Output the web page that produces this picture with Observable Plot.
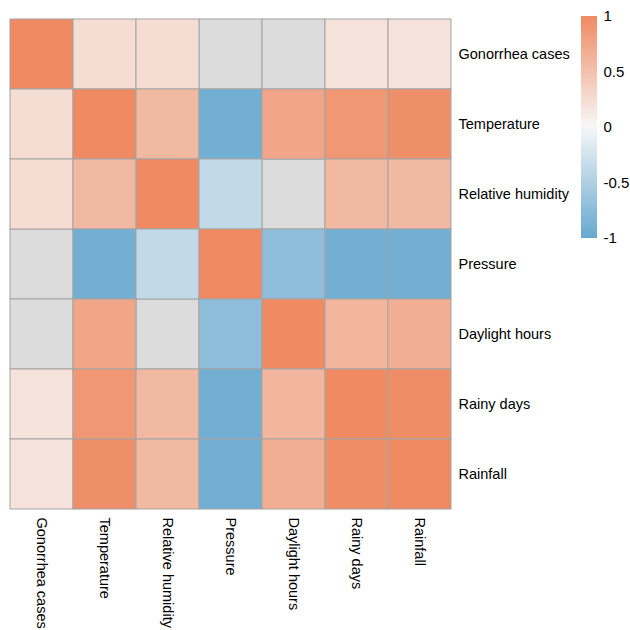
<!DOCTYPE html>
<html>
<head>
<meta charset="utf-8">
<script src="https://cdn.jsdelivr.net/npm/d3@7"></script>
<script src="https://cdn.jsdelivr.net/npm/@observablehq/plot@0.6"></script>
<style>
  html, body { margin: 0; padding: 0; background: #fff; }
  #wrap { position: relative; width: 630px; height: 630px; font-family: "Liberation Sans", Arial, sans-serif; }
  #legend { position: absolute; left: 573px; top: 0px; }
  #main { position: absolute; left: 0; top: 0; }
</style>
</head>
<body>
<div id="wrap"><div id="main"></div><div id="legend"></div></div>
<script>
const variables = ["Gonorrhea cases", "Temperature", "Relative humidity", "Pressure", "Daylight hours", "Rainy days", "Rainfall"];
// correlation matrix rows (null = not significant, drawn grey)
const rowGonorrhea   = [1.00, 0.24, 0.24, null, null, 0.19, 0.19];
const rowTemperature = [0.24, 1.00, 0.57, -0.92, 0.74, 0.88, 0.95];
const rowHumidity    = [0.24, 0.57, 1.00, -0.37, null, 0.57, 0.57];
const rowPressure    = [null, -0.92, -0.37, 1.00, -0.73, -0.92, -0.92];
const rowDaylight    = [null, 0.74, null, -0.73, 1.00, 0.60, 0.67];
const rowRainyDays   = [0.19, 0.88, 0.57, -0.92, 0.60, 1.00, 0.97];
const rowRainfall    = [0.19, 0.95, 0.57, -0.92, 0.67, 0.97, 1.00];
const matrix = [rowGonorrhea, rowTemperature, rowHumidity, rowPressure, rowDaylight, rowRainyDays, rowRainfall];
const legendTicks = [-1, -0.5, 0, 0.5, 1];

const cells = [];
matrix.forEach((row, i) => row.forEach((v, j) => cells.push({row: variables[i], col: variables[j], value: v})));

const colorOpts = {type: "linear", domain: [-1, 0, 1], range: ["#67a9cf", "#f7f7f7", "#ef8a62"], interpolate: "rgb"};
const font = "Liberation Sans, Arial, sans-serif";

const main = Plot.plot({
  width: 630, height: 630,
  marginLeft: 8, marginRight: 177, marginTop: 16, marginBottom: 119,
  style: {fontFamily: font, fontSize: "14.5px", color: "#000", background: "#fff"},
  x: {type: "band", domain: variables, padding: 0, axis: null},
  y: {type: "band", domain: variables, padding: 0, axis: null},
  color: colorOpts,
  marks: [
    Plot.cell(cells.filter(d => d.value === null), {x: "col", y: "row", fill: "#dcdcdc", stroke: "#a3a3a3", strokeWidth: 1}),
    Plot.cell(cells.filter(d => d.value !== null), {x: "col", y: "row", fill: "value", stroke: "#a3a3a3", strokeWidth: 1}),
    Plot.axisY({anchor: "right", tickSize: 0, tickPadding: 5, fontSize: 14.5, label: null}),
    Plot.axisX({anchor: "bottom", tickSize: 0, tickPadding: 6, tickRotate: 90, fontSize: 14.5, label: null})
  ]
});
document.getElementById("main").appendChild(main);

const steps = d3.range(-1, 1, 0.01).map(v => ({v0: v, v1: Math.min(1, v + 0.012)}));
const legend = Plot.plot({
  width: 57, height: 260,
  marginLeft: 8, marginRight: 33, marginTop: 16, marginBottom: 22,
  style: {fontFamily: font, fontSize: "15px", color: "#000", background: "transparent"},
  x: {domain: [0, 1], axis: null},
  y: {domain: [-1, 1], axis: null},
  color: colorOpts,
  marks: [
    Plot.rect(steps, {x1: 0, x2: 1, y1: "v0", y2: "v1", fill: "v0", shapeRendering: "crispEdges"}),
    Plot.axisY({anchor: "right", ticks: legendTicks, tickSize: 0, tickPadding: 6, fontSize: 15, label: null, tickFormat: d => String(d)})
  ]
});
document.getElementById("legend").appendChild(legend);
</script>
</body>
</html>
